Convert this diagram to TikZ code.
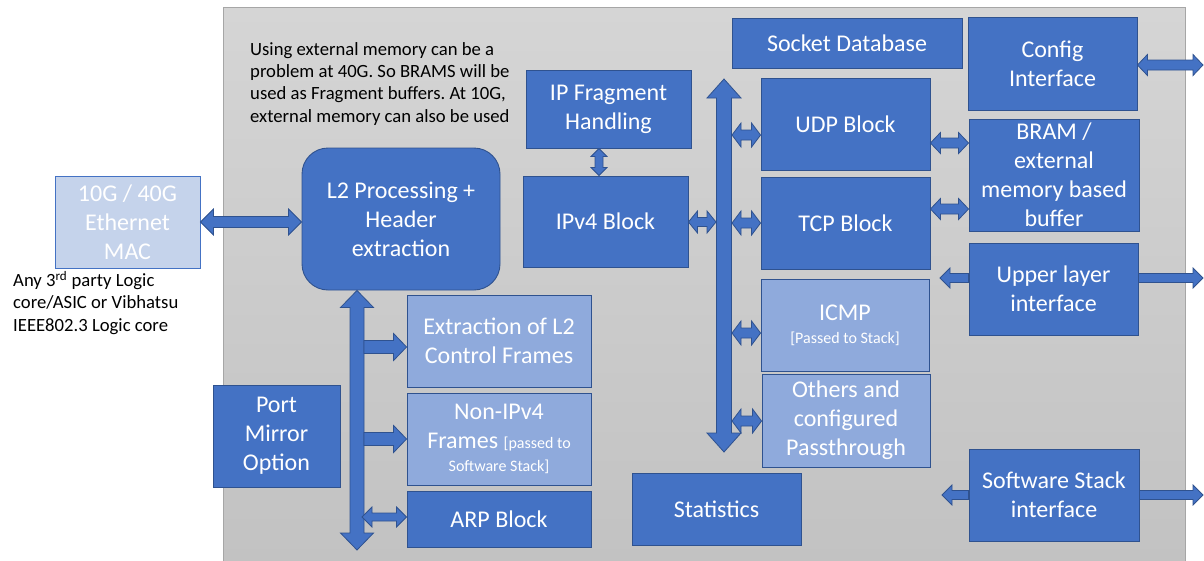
\documentclass[tikz,border=0pt]{standalone}
\usepackage{fontspec}
\setmainfont{Carlito}
\usetikzlibrary{calc}
\definecolor{dkblue}{HTML}{4472C4}
\definecolor{ltblue}{HTML}{8FAADC}
\definecolor{macfill}{HTML}{C5D3EB}
\definecolor{bordc}{HTML}{2F528F}
\definecolor{panelt}{HTML}{D5D5D5}
\definecolor{panelb}{HTML}{C2C2C2}
\definecolor{panelline}{HTML}{A6A6A6}
\frenchspacing
\newcommand\smallsz{\fontsize{16}{19}\selectfont}
\newcommand\dblarr[5]{%
  \coordinate (da-s) at ($(#1)!#5!(#2)$);
  \coordinate (da-e) at ($(#2)!#5!(#1)$);
  \filldraw[barrow] (#1) -- ($(da-s)!#4!90:(#2)$) -- ($(da-s)!#3!90:(#2)$)
    -- ($(da-e)!#3!-90:(#1)$) -- ($(da-e)!#4!-90:(#1)$) -- (#2)
    -- ($(da-e)!#4!90:(#1)$) -- ($(da-e)!#3!90:(#1)$)
    -- ($(da-s)!#3!-90:(#2)$) -- ($(da-s)!#4!-90:(#2)$) -- cycle;}
\newcommand\sglarr[5]{%
  \coordinate (da-e) at ($(#2)!#5!(#1)$);
  \filldraw[barrow] ($(#1)!#3!90:(#2)$)
    -- ($(da-e)!#3!-90:(#1)$) -- ($(da-e)!#4!-90:(#1)$) -- (#2)
    -- ($(da-e)!#4!90:(#1)$) -- ($(da-e)!#3!90:(#1)$)
    -- ($(#1)!#3!-90:(#2)$) -- cycle;}
\begin{document}
\begin{tikzpicture}[x=1pt,y=-1pt,
  dk/.style={draw=bordc, fill=dkblue, line width=0.9pt, text=white, align=center,
    inner sep=0pt, font=\fontsize{24}{29}\selectfont},
  lt/.style={dk, fill=ltblue},
  macbox/.style={dk, fill=macfill, draw=dkblue},
  note/.style={align=left, inner sep=0pt, text=black, font=\fontsize{18.67}{22.4}\selectfont},
  barrow/.style={fill=dkblue, draw=bordc, line width=0.8pt, line join=miter}]
\useasboundingbox (0,0) rectangle (1204,560);
\shade[top color=panelt, bottom color=panelb, draw=panelline, line width=0.8pt] (223,7) rectangle (1185,563);

% boxes
\node[macbox, minimum width=145pt, minimum height=92pt] (mac) at (127.5,222) {10G / 40G\\Ethernet\\MAC};
\node[dk, minimum width=198pt, minimum height=142pt, rounded corners=26pt] (l2) at (401,219) {L2 Processing +\\Header\\extraction};
\node[lt, minimum width=184pt, minimum height=92pt] (ext) at (499,341) {Extraction of L2\\Control Frames};
\node[lt, minimum width=184pt, minimum height=92pt] (non) at (499,439) {Non-IPv4\\Frames {\smallsz [passed to}\\[-6pt]{\smallsz Software Stack]}};
\node[dk, minimum width=184pt, minimum height=56pt] (arp) at (499,519) {ARP Block};
\node[dk, minimum width=127pt, minimum height=102pt] (port) at (276.5,436) {Port\\Mirror\\Option};
\node[dk, minimum width=165pt, minimum height=78pt] (ipf) at (608.5,109) {IP Fragment\\Handling};
\node[dk, minimum width=165pt, minimum height=91pt] (ipv4) at (605.5,221.5) {IPv4 Block};
\node[dk, minimum width=169pt, minimum height=92pt] (udp) at (845.5,124) {UDP Block};
\node[dk, minimum width=169pt, minimum height=92pt] (tcp) at (845.5,223) {TCP Block};
\node[lt, minimum width=168pt, minimum height=92pt] (icmp) at (845,325) {ICMP\\[-6pt]{\smallsz [Passed to Stack]}};
\node[lt, minimum width=168pt, minimum height=93pt] (oth) at (846,420.5) {Others and\\configured\\Passthrough};
\node[dk, minimum width=230pt, minimum height=50pt] (sock) at (847,43) {Socket Database};
\node[dk, minimum width=169pt, minimum height=93pt] (cfg) at (1052.5,63.5) {Config\\Interface};
\node[dk, minimum width=170pt, minimum height=112pt] (bram) at (1054,175) {BRAM /\\external\\memory based\\buffer};
\node[dk, minimum width=169pt, minimum height=92pt] (upper) at (1053.5,289) {Upper layer\\interface};
\node[dk, minimum width=170pt, minimum height=92pt] (sw) at (1054,495) {Software Stack\\interface};
\node[dk, minimum width=169pt, minimum height=72pt] (stats) at (716.5,509) {Statistics};

% notes
\node[note, anchor=north west] (memnote) at (250,42) {Using external memory can be a\\problem at 40G. So BRAMS will be\\used as Fragment buffers. At 10G,\\external memory can also be used};
\node[note, anchor=north west] (macnote) at (13,271) {Any 3\textsuperscript{rd} party Logic\\core/ASIC or Vibhatsu\\IEEE802.3 Logic core};

% connectors
\coordinate (m1) at (mac.east |- 0,222);
\coordinate (m2) at (l2.west |- 0,222);
\dblarr{m1}{m2}{5.5pt}{13pt}{13pt}

\coordinate (b1t) at (357,0 |- l2.south);
\coordinate (b1b) at (357,550);
\dblarr{b1t}{b1b}{7pt}{16.5pt}{17pt}

\coordinate (e0) at (364,347);
\coordinate (e1) at (ext.west |- 0,347);
\sglarr{e0}{e1}{6.5pt}{13.5pt}{13pt}
\coordinate (n0) at (364,439);
\coordinate (n1) at (non.west |- 0,439);
\sglarr{n0}{n1}{6.5pt}{13.5pt}{13pt}
\coordinate (r0) at (362,517);
\coordinate (r1) at (arp.west |- 0,517);
\dblarr{r0}{r1}{4pt}{10pt}{10pt}

\coordinate (f0) at (599,0 |- ipf.south);
\coordinate (f1) at (599,0 |- ipv4.north);
\dblarr{f0}{f1}{4pt}{8pt}{8pt}

\coordinate (v0) at (ipv4.east |- 0,222);
\coordinate (v1) at (716,222);
\dblarr{v0}{v1}{4.5pt}{11pt}{9pt}

\coordinate (b2t) at (724,79);
\coordinate (b2b) at (724,452);
\dblarr{b2t}{b2b}{7.5pt}{17pt}{19pt}

\coordinate (u0) at (732,135);
\coordinate (u1) at (udp.west |- 0,135);
\dblarr{u0}{u1}{5pt}{12pt}{9pt}
\coordinate (t0) at (732,223);
\coordinate (t1) at (tcp.west |- 0,223);
\dblarr{t0}{t1}{5pt}{12pt}{9pt}
\coordinate (i0) at (732,333);
\coordinate (i1) at (icmp.west |- 0,333);
\dblarr{i0}{i1}{5pt}{12pt}{9pt}
\coordinate (o0) at (732,421);
\coordinate (o1) at (oth.west |- 0,421);
\dblarr{o0}{o1}{5pt}{12pt}{9pt}

\coordinate (ub0) at (udp.east |- 0,143);
\coordinate (ub1) at (bram.west |- 0,143);
\dblarr{ub0}{ub1}{5pt}{10.5pt}{10pt}
\coordinate (tb0) at (tcp.east |- 0,209);
\coordinate (tb1) at (bram.west |- 0,209);
\dblarr{tb0}{tb1}{5pt}{10.5pt}{10pt}

\coordinate (c0) at (cfg.east |- 0,65);
\coordinate (c1) at (1203,65);
\dblarr{c0}{c1}{5pt}{10.5pt}{10pt}

\coordinate (ul0) at (upper.west |- 0,278);
\coordinate (ul1) at (940,278);
\sglarr{ul0}{ul1}{4.5pt}{10pt}{10pt}
\coordinate (ur0) at (upper.east |- 0,278);
\coordinate (ur1) at (1203,278);
\sglarr{ur0}{ur1}{4.5pt}{10pt}{10pt}

\coordinate (sl0) at (sw.west |- 0,495);
\coordinate (sl1) at (942,495);
\sglarr{sl0}{sl1}{4.5pt}{10pt}{10pt}
\coordinate (sr0) at (sw.east |- 0,495);
\coordinate (sr1) at (1203,495);
\sglarr{sr0}{sr1}{4.5pt}{10pt}{10pt}
\end{tikzpicture}
\end{document}
